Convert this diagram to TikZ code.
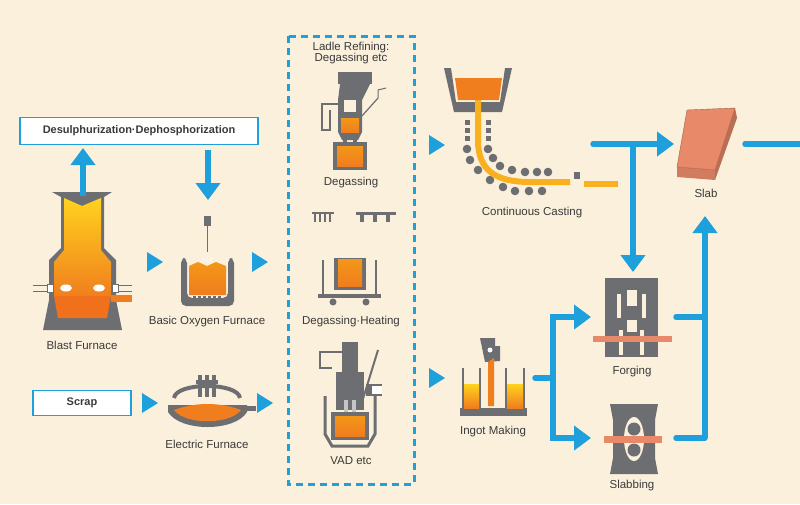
\documentclass[tikz,border=0pt]{standalone}
\usepackage{fontspec}
\setmainfont{Liberation Sans}
\usetikzlibrary{arrows.meta}
\definecolor{bg}{HTML}{FBF0DC}
\definecolor{bl}{HTML}{1EA0DC}
\definecolor{gr}{HTML}{6D6E71}
\definecolor{yel}{HTML}{FFD21E}
\definecolor{org}{HTML}{F07D1E}
\definecolor{sal}{HTML}{E8896A}
\definecolor{txt}{HTML}{3A3A3A}
\tikzset{
  lab/.style={font=\fontsize{11.5}{12.5}\selectfont, text=txt, align=center},
  boxlab/.style={draw=bl, line width=1.3pt, fill=white, font=\bfseries\fontsize{11}{12}\selectfont, text=txt, inner sep=0pt},
  flow/.style={draw=bl, line width=5.5pt, -{Triangle[length=17pt,width=24pt]}},
  line/.style={draw=bl, line width=5.5pt, line cap=round},
  iron/.style={fill=gr},
}
\newcommand{\rtri}[2]{\fill[bl] (#1-8,#2-10) -- (#1+8,#2) -- (#1-8,#2+10) -- cycle;}
\begin{document}
\begin{tikzpicture}[x=1pt,y=-1pt]
\useasboundingbox (0,0) rectangle (800,504);
\fill[bg] (0,0) rectangle (800,504);

% ---- boxes
\node[boxlab, minimum width=238pt, minimum height=27pt] (desul) at (139,131) {Desulphurization·Dephosphorization};
\node[boxlab, minimum width=98pt, minimum height=25pt] (scrap) at (82,403) {Scrap};

% ---- blast furnace
\fill[gr] (52,192) -- (61,197) -- (61,248) -- (49,260) -- (49,300) -- (43,330) -- (122,330) -- (116,300) -- (116,260) -- (104,248) -- (104,197) -- (112,192) -- cycle;
\shade[top color=yel, bottom color=org] (64,198) -- (82,206) -- (101,198) -- (101,250) -- (111,262) -- (111,298) -- (64,298) -- (54,298) -- (54,262) -- (64,250) -- cycle;
\fill[org!90!red] (54,296) -- (111,296) -- (107,318) -- (58,318) -- cycle;
\fill[white] (66,288) ellipse (6 and 3.5);
\fill[white] (99,288) ellipse (6 and 3.5);
\draw[gr, line width=0.6pt] (33,285) -- (49,285) (33,291) -- (49,291) (116,285) -- (132,285) (116,291) -- (132,291);
\fill[white, draw=gr] (47,284) rectangle (53,292);
\fill[white, draw=gr] (112,284) rectangle (118,292);
\fill[org] (111,295) rectangle (132,302);
\node[lab] (bfl) at (82,345) {Blast Furnace};

% ---- BOF
\fill[gr] (204,216) rectangle (211,226);
\draw[gr, line width=0.6pt] (207,226) -- (207,252);
\fill[gr, rounded corners=5pt] (181,258) -- (181,306) -- (234,306) -- (234,258) -- (228,258) -- (228,298) -- (187,298) -- (187,258) -- cycle;
\shade[top color=org!80!yellow, bottom color=org] (189,266) -- (198,262) -- (207,266) -- (216,262) -- (226,266) -- (226,295) -- (189,295) -- cycle;
\foreach \x in {193,198,...,218} \fill[gr] (\x,296) rectangle (\x+3,303);
\draw[white, line width=0.5pt] (204,262) -- (202,257) (207,262) -- (207,256) (210,262) -- (212,257);
\node[lab] (bofl) at (207,322) {Basic Oxygen Furnace};

% ---- electric furnace
\draw[gr, line width=4pt] (174,398) .. controls (176,382) and (238,382) .. (240,398);
\foreach \x in {200,207,214} \fill[gr] (\x-2,375) rectangle (\x+2,397);
\fill[gr] (196,380) rectangle (218,384);
\fill[gr] (168,405) -- (247,405) -- (247,412) .. controls (235,432) and (180,432) .. (168,412) -- cycle;
\fill[org] (174,410) .. controls (195,402) and (220,402) .. (241,410) .. controls (230,425) and (185,425) .. cycle;
\fill[gr] (245,406) rectangle (256,411);
\node[lab] (efl) at (207,444) {Electric Furnace};

% ---- dashed box
\draw[bl, line width=3pt, dash pattern=on 7pt off 5pt] (288,36) rectangle (414,484);
\node[lab] (ladle) at (351,53) {Ladle Refining:\\[-2pt]Degassing etc};

% degassing
\fill[gr] (338,72) rectangle (372,84);
\fill[gr] (340,84) -- (370,84) -- (362,100) -- (362,132) -- (358,140) -- (342,140) -- (338,132) -- (338,100) -- cycle;
\fill[bg] (344,100) rectangle (356,112);
\shade[top color=org!80!yellow, bottom color=org] (341,118) -- (359,118) -- (359,132) -- (341,132) -- cycle;
\draw[gr, line width=2pt] (338,104) -- (322,104) -- (322,130) -- (330,130) -- (330,110);
\draw[gr, line width=1.2pt] (362,116) -- (378,98);
\draw[gr, line width=1pt] (378,98) -- (378,90) -- (386,88);
\fill[gr] (343,138) rectangle (347,146);
\fill[gr] (353,138) rectangle (357,146);
\fill[gr] (333,142) -- (367,142) -- (367,170) -- (333,170) -- cycle;
\shade[top color=org!80!yellow, bottom color=org] (337,146) rectangle (363,166);
\node[lab] (degl) at (351,183) {Degassing};

% degassing heating
\fill[gr] (312,212) rectangle (334,214);
\foreach \x in {314,319,324,329} \fill[gr] (\x,214) rectangle (\x+2,222);
\fill[gr] (356,212) rectangle (396,215);
\foreach \x in {362,375,388} \fill[gr] (\x-2,215) rectangle (\x+2,222);
\draw[gr, line width=2pt] (323,260) -- (323,296) -- (376,296) -- (376,260);
\fill[gr] (334,258) -- (366,258) -- (366,290) -- (334,290) -- cycle;
\shade[top color=org!80!yellow, bottom color=org] (338,259) rectangle (362,286);
\fill[gr] (318,294) rectangle (381,298);
\fill[gr] (333,302) circle (3.5);
\fill[gr] (366,302) circle (3.5);
\node[lab] (dhl) at (351,322) {Degassing·Heating};

% VAD
\fill[gr] (342,342) rectangle (358,372);
\draw[gr, line width=2pt] (342,352) -- (334,352) -- (320,352) -- (320,368) -- (332,368);
\fill[gr] (336,372) rectangle (364,410);
\fill[gr!40] (344,400) rectangle (348,412);
\fill[gr!40] (352,400) rectangle (356,412);
\draw[gr, line width=2pt] (362,402) -- (378,350);
\fill[gr] (366,384) rectangle (382,396);
\fill[white] (372,386) rectangle (382,394);
\draw[gr, line width=3pt] (325,396) -- (325,434) -- (332,446) -- (368,446) -- (375,434) -- (375,396);
\fill[gr] (331,412) -- (369,412) -- (369,440) -- (331,440) -- cycle;
\shade[top color=org!80!yellow, bottom color=org] (335,416) -- (365,416) -- (365,436) -- (335,436) -- cycle;
\node[lab] (vadl) at (351,461) {VAD etc};

% ---- continuous casting
\fill[gr] (444,68) -- (451,68) -- (456,102) -- (500,102) -- (505,68) -- (512,68) -- (502,112) -- (454,112) -- cycle;
\fill[org] (455,78) -- (502,78) -- (499,100) -- (458,100) -- cycle;
\foreach \y in {120,128,136} {\fill[gr] (465,\y) rectangle (470,\y+5); \fill[gr] (486,\y) rectangle (491,\y+5);}
\foreach \p in {(467,149),(488,149),(470,160),(493,158),(478,170),(500,166),(490,180),(512,170),(503,187),(525,172),(515,191),(537,172),(529,191),(548,172),(542,191)} \fill[gr] \p circle (4.3);
\draw[yel!60!org, line width=6pt] (478,100) -- (478,140) .. controls (478,170) and (495,182) .. (530,182) -- (570,182);
\draw[yel!60!org, line width=6pt] (584,184) -- (618,184);
\fill[gr] (574,172) rectangle (580,179);
\node[lab] (ccl) at (532,213) {Continuous Casting};

% ---- slab
\fill[sal!80!black] (735,108) -- (737,118) -- (715,180) -- (715,170) -- cycle;
\fill[sal!90!black] (677,167) -- (715,170) -- (715,180) -- (677,177) -- cycle;
\fill[sal, draw=sal!70!black, line width=0.4pt] (687,110) -- (735,108) -- (715,170) -- (677,167) -- cycle;
\node[lab] (slabl) at (706,193) {Slab};

% ---- ingot making
\fill[gr] (480,338) -- (495,338) -- (495,346) -- (500,346) -- (500,361) -- (485,362) -- cycle;
\fill[white] (490,350) circle (2.5);
\fill[org] (488,362) -- (494,358) -- (494,406) -- (488,406) -- cycle;
\draw[gr, line width=2.5pt] (463,368) -- (463,410) (480,368) -- (480,410) (506,368) -- (506,410) (524,368) -- (524,410);
\fill[gr] (460,408) rectangle (527,416);
\shade[top color=yel, bottom color=org] (464,384) rectangle (479,408);
\shade[top color=yel, bottom color=org] (507,384) rectangle (523,408);
\node[lab] (ingl) at (493,432) {Ingot Making};

% ---- forging
\fill[gr] (605,278) rectangle (658,357);
\fill[bg] (617,294) rectangle (621,318);
\fill[bg] (642,294) rectangle (646,318);
\fill[bg] (627,290) rectangle (637,306);
\fill[bg] (619,330) rectangle (623,355);
\fill[bg] (640,330) rectangle (644,355);
\fill[bg] (627,320) rectangle (637,332);
\fill[sal] (593,336) rectangle (672,342);
\node[lab] (forgl) at (632,372) {Forging};

% ---- slabbing
\fill[gr] (610,404) -- (658,404) -- (655,420) -- (655,458) -- (658,474) -- (610,474) -- (613,458) -- (613,420) -- cycle;
\fill[bg] (634,439) ellipse (10 and 22);
\fill[sal] (604,436) -- (662,436) -- (662,443) -- (604,443) -- cycle;
\fill[gr] (634,429) circle (6.5);
\fill[gr] (634,450) circle (6.5);
\node[lab] (slbl) at (632,486) {Slabbing};

% ---- flow connectors
\draw[flow] (83,196) -- (83,148);
\draw[flow] (208,150) -- (208,200);
\rtri{155}{262}
\rtri{260}{262}
\rtri{150}{403}
\rtri{265}{403}
\rtri{437}{145}
\rtri{437}{378}

\coordinate (ccend) at (593,144);
\coordinate (tj) at (633,144);
\coordinate (slabin) at (674,144);
\coordinate (forgtop) at (633,272);
\coordinate (slabout) at (745,144);
\coordinate (edge) at (800,144);
\draw[line] (ccend) -- (tj);
\draw[flow] (tj) -- (slabin);
\draw[flow] (tj) -- (forgtop);
\draw[line] (slabout) -- (edge);

\coordinate (fo) at (676,317);
\coordinate (so) at (676,438);
\coordinate (vr) at (705,438);
\coordinate (vr2) at (705,317);
\coordinate (slabbot) at (705,216);
\draw[line] (fo) -- (vr2);
\draw[line] (so) -- (vr);
\draw[flow] (vr) -- (slabbot);

\coordinate (io) at (535,378);
\coordinate (ij) at (553,378);
\coordinate (fi) at (591,317);
\coordinate (si) at (591,438);
\draw[line] (io) -- (ij);
\draw[flow] (ij) |- (fi);
\draw[flow] (ij) |- (si);
\end{tikzpicture}
\end{document}
